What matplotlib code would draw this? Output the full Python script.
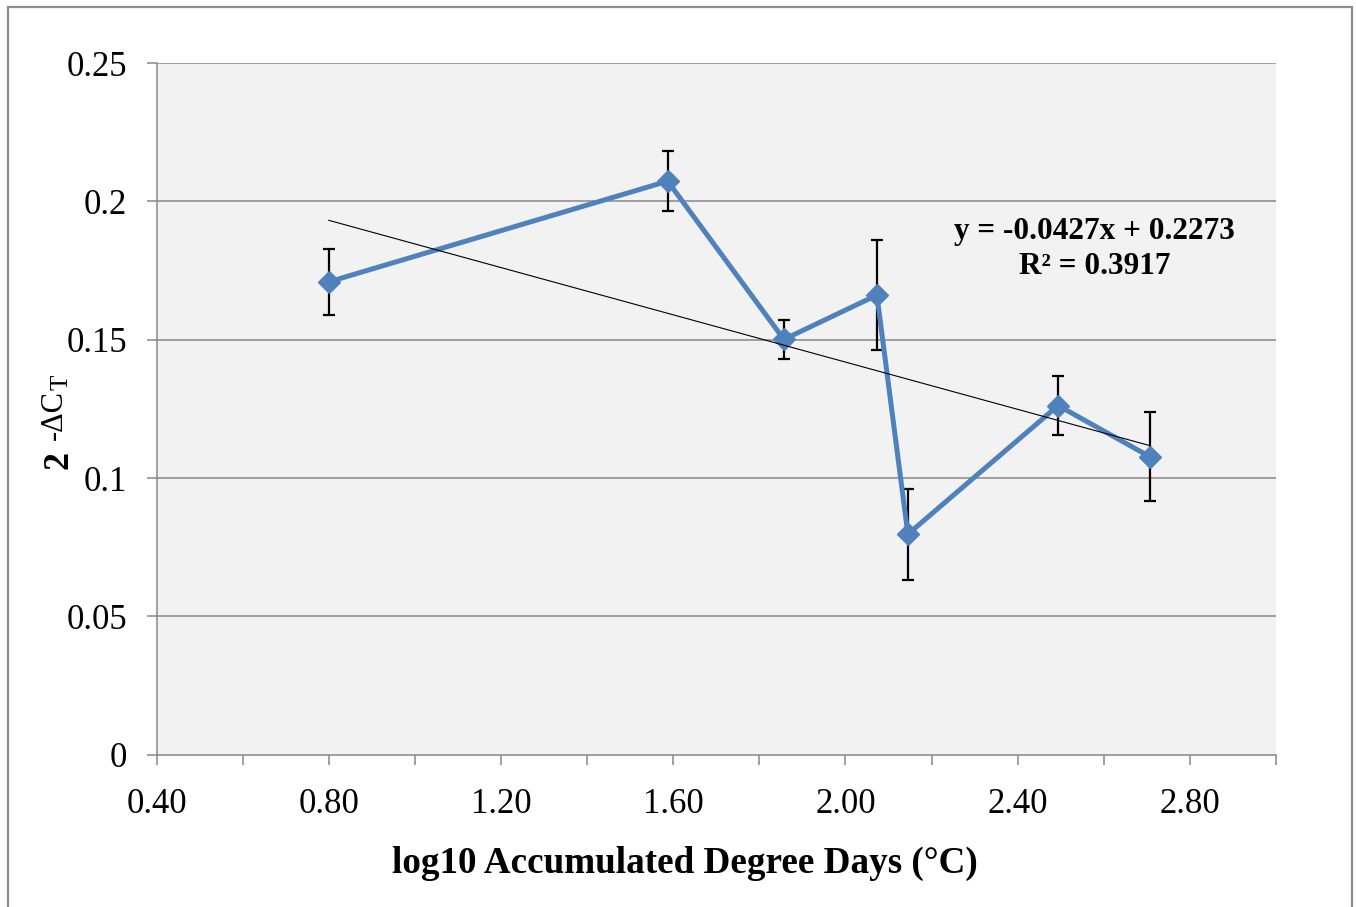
import matplotlib
matplotlib.use("Agg")
import matplotlib.pyplot as plt
import numpy as np
from matplotlib.patches import Rectangle
from matplotlib.ticker import FixedLocator

# ---- data ----
log_add = [0.80, 1.587, 1.857, 2.073, 2.145, 2.494, 2.707]
rel_expr = [0.1709, 0.2073, 0.1501, 0.1661, 0.0797, 0.1262, 0.1077]
err = [0.0118, 0.0108, 0.0071, 0.0200, 0.0164, 0.0107, 0.0160]
trend_slope = -0.0427
trend_intercept = 0.2273
eq_text = "y = -0.0427x + 0.2273"
r2_text = "R\u00b2 = 0.3917"
x_ticklabels = ["0.40", "0.80", "1.20", "1.60", "2.00", "2.40", "2.80"]
y_ticklabels = ["0", "0.05", "0.1", "0.15", "0.2", "0.25"]

W, H = 1356, 907
DPI = 100
plt.rcParams['font.family'] = ['Liberation Serif', 'DejaVu Serif']

fig = plt.figure(figsize=(W / DPI, H / DPI), dpi=DPI)
fig.patch.set_facecolor('white')

def px(x, y):
    return x / W, 1 - y / H

# outer chart border
fig.patches.append(Rectangle((8 / W, -0.05), (1352 - 8) / W, 1 - 7 / H + 0.05,
                             transform=fig.transFigure, fill=False,
                             edgecolor='#8c8c8c', linewidth=1.6))

left, right, top, bottom = 156.6, 1276, 63, 754.7
ax = fig.add_axes([left / W, 1 - bottom / H, (right - left) / W, (bottom - top) / H])
ax.set_facecolor('#f2f2f2')

grid_c = '#878787'
ax.set_xlim(0.4, 3.0)
ax.set_ylim(0, 0.25)

yt = [0, 0.05, 0.1, 0.15, 0.2, 0.25]
ax.set_yticks(yt)
ax.set_yticklabels(y_ticklabels)
xt = [0.4, 0.8, 1.2, 1.6, 2.0, 2.4, 2.8]
ax.set_xticks(xt)
ax.set_xticklabels(x_ticklabels)
ax.xaxis.set_minor_locator(FixedLocator([0.6, 1.0, 1.4, 1.8, 2.2, 2.6, 3.0]))

for v in yt[1:]:
    ax.axhline(v, color=grid_c, lw=1.1, zorder=1)

for s in ['top', 'right']:
    ax.spines[s].set_visible(False)
for s in ['left', 'bottom']:
    ax.spines[s].set_color(grid_c)
    ax.spines[s].set_linewidth(1.1)

ax.tick_params(axis='y', which='major', length=7.2, width=1.1, color=grid_c,
               labelsize=25, pad=14, direction='out')
ax.tick_params(axis='x', which='both', length=7.2, width=1.1, color=grid_c,
               labelsize=25, pad=17, direction='out')

# error bars
ax.errorbar(log_add, rel_expr, yerr=err, fmt='none', ecolor='black',
            elinewidth=1.6, capsize=4.5, capthick=1.6, zorder=3)
# data line
ax.plot(log_add, rel_expr, color='#4f81bd', lw=3.6, marker='D', markersize=11.5,
        markerfacecolor='#4f81bd', markeredgecolor='#4f81bd', zorder=4)
# trendline
tx = np.array([log_add[0], log_add[-1]])
ax.plot(tx, trend_slope * tx + trend_intercept, color='black', lw=0.8, zorder=5)

# equation text
fig.text(*px(1094, 231), eq_text, ha='center', va='center', fontsize=22.5,
         fontweight='bold')
fig.text(*px(1095, 266), r2_text, ha='center', va='center', fontsize=22.5,
         fontweight='bold')

# x label
fig.text(*px(685, 863), "log10 Accumulated Degree Days (\u00b0C)", ha='center',
         va='center', fontsize=26.7, fontweight='bold')

# y label pieces: 2^{-ΔC_T}
fig.text(*px(59, 460), "2", rotation=90, ha='center', va='center',
         fontsize=26, fontweight='bold')
fig.text(*px(54, 415), "-\u0394C", rotation=90, ha='center', va='center',
         fontsize=22)
fig.text(*px(61, 382), "T", rotation=90, ha='center', va='center',
         fontsize=18)

fig.savefig('out.png', dpi=DPI)
